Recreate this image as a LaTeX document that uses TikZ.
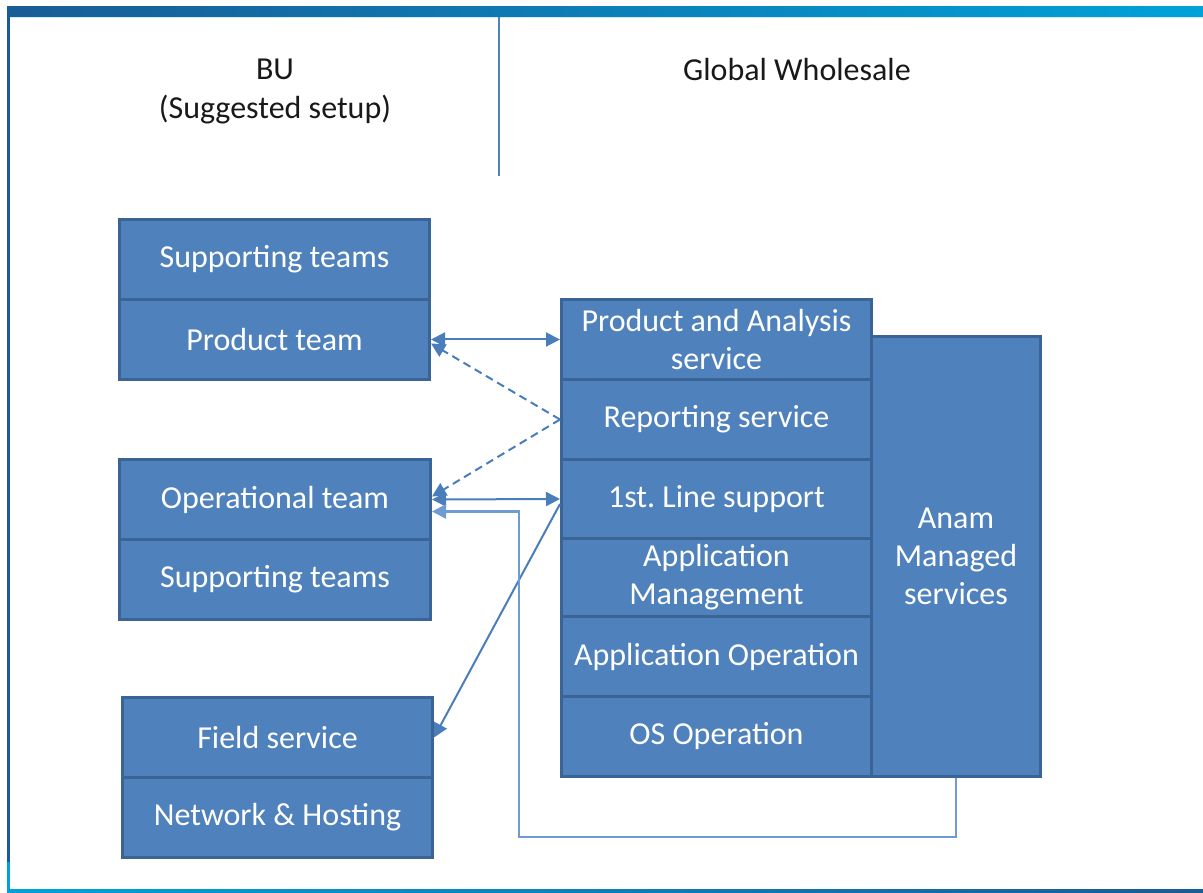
\documentclass[tikz,border=0pt]{standalone}
\usepackage{fontspec}
\setmainfont{Carlito}
\usetikzlibrary{arrows.meta}
\frenchspacing
\definecolor{boxfill}{HTML}{4F81BD}
\definecolor{boxline}{HTML}{3A6496}
\definecolor{conn}{HTML}{4A7EBB}
\definecolor{connlight}{HTML}{6E9BD1}
\definecolor{bardark}{HTML}{1A5C95}
\definecolor{barlight}{HTML}{00A2D9}
\tikzset{
  box/.style={draw=boxline, fill=boxfill, line width=3pt, text=white, anchor=north west,
    inner sep=0pt, align=center, font=\fontsize{32}{38}\selectfont},
  head/.style={text=black!90, align=center, font=\fontsize{32}{39}\selectfont},
  cline/.style={draw=conn, line width=2pt},
  tip/.style={-{Triangle[length=14pt,width=14pt]}},
  tips/.style={{Triangle[length=14pt,width=14pt]}-{Triangle[length=14pt,width=14pt]}},
}
\begin{document}
\begin{tikzpicture}[x=1pt,y=-1pt]
\useasboundingbox (0,0) rectangle (1203,893);
\fill[white] (0,0) rectangle (1203,893);
% frame
\shade[left color=bardark, right color=barlight] (7,7) rectangle (1203,17);
\draw[white!80!barlight, line width=1pt] (10,18) -- (1203,18);
\fill[bardark] (7,7) rectangle (10,862);
\fill[barlight] (7,862) rectangle (10,893);
\shade[left color=barlight, right color=bardark] (7,889) rectangle (1203,893);
\draw[boxfill, line width=1.5pt] (499,17) -- (499,176);
% headers
\node[head] (bu) at (275,91) {BU\\(Suggested setup)};
\node[head] (gw) at (797,70) {Global Wholesale};
% left boxes
\node[box, minimum width=310pt, minimum height=80pt] (st1) at (118,218) {Supporting teams};
\node[box, minimum width=310pt, minimum height=80pt] (pt) at (118,298) {Product team};
\node[box, minimum width=311pt, minimum height=80pt] (op) at (118,458) {Operational team};
\node[box, minimum width=311pt, minimum height=80pt] (st2) at (118,538) {Supporting teams};
\node[box, minimum width=310pt, minimum height=80pt] (fs) at (121,696) {Field service};
\node[box, minimum width=310pt, minimum height=80pt] (nh) at (121,776) {Network \& Hosting};
% right boxes
\node[box, minimum width=169pt, minimum height=440pt] (anam) at (870,335) {Anam\\Managed\\services};
\node[box, minimum width=310pt, minimum height=80pt] (pas) at (560,298) {Product and Analysis\\service};
\node[box, minimum width=310pt, minimum height=80pt] (rep) at (560,378) {Reporting service};
\node[box, minimum width=310pt, minimum height=79pt] (fls) at (560,458) {1st. Line support};
\node[box, minimum width=310pt, minimum height=78pt] (am) at (560,537) {Application\\Management};
\node[box, minimum width=310pt, minimum height=80pt] (ao) at (560,615) {Application Operation};
\node[box, minimum width=310pt, minimum height=80pt] (os) at (560,695) {OS Operation};
% connectors
\draw[cline, tips] (pt.east) -- (pas.west);
\draw[cline, tip, dash pattern=on 8pt off 5pt] (rep.west) -- ([yshift=-4pt]pt.east);
\draw[cline, tip, dash pattern=on 8pt off 5pt] (rep.west) -- ([yshift=3pt]op.east);
\draw[cline, tips] (op.east) -- (fls.west);
\draw[cline, tip] ([yshift=-5pt]fls.west) -- (fs.east);
\coordinate (c1) at (519,837);
\draw[draw=connlight, line width=2.5pt, tip] (anam.south) |- (c1) |- ([yshift=-12pt]op.east);
\end{tikzpicture}
\end{document}
